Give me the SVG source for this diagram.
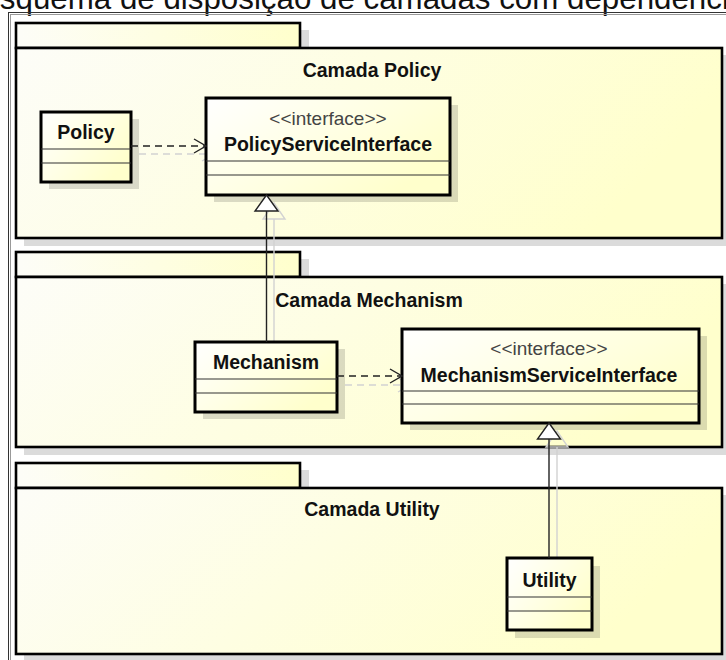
<svg xmlns="http://www.w3.org/2000/svg" width="726" height="660" viewBox="0 0 726 660">
  <defs>
    <linearGradient id="pkgFill" x1="0" y1="0" x2="1" y2="0.25">
      <stop offset="0" stop-color="#FDFDF8"/>
      <stop offset="1" stop-color="#FFFFCC"/>
    </linearGradient>
    <linearGradient id="tabFill" x1="0" y1="0" x2="1" y2="0">
      <stop offset="0" stop-color="#FDFDF8"/>
      <stop offset="1" stop-color="#FFFFCC"/>
    </linearGradient>
    <linearGradient id="clsFill" x1="0" y1="0" x2="1" y2="0.6">
      <stop offset="0" stop-color="#FFFFFF"/>
      <stop offset="1" stop-color="#FFFFCC"/>
    </linearGradient>
    <marker id="openArrow" viewBox="0 0 14 16" refX="13" refY="8" markerWidth="14" markerHeight="16" markerUnits="userSpaceOnUse" orient="auto">
      <path d="M1,1 L13,8 L1,15" fill="none" stroke="#222" stroke-width="1.4"/>
    </marker>
    <marker id="openArrowShadow" viewBox="0 0 14 16" refX="13" refY="8" markerWidth="14" markerHeight="16" markerUnits="userSpaceOnUse" orient="auto">
      <path d="M1,1 L13,8 L1,15" fill="none" stroke="#d2d2d2" stroke-width="1.4"/>
    </marker>
  </defs>
  <style>
    .title { font-family: "Liberation Sans", Arial, sans-serif; font-size: 31.3px; fill: #111; }
    .pkg { fill: url(#pkgFill); stroke: #000; stroke-width: 2.6; }
    .tab { fill: url(#tabFill); stroke: #000; stroke-width: 2.6; }
    .shadow { fill: #000; fill-opacity: 0.14; stroke: none; }
    .cls { fill: url(#clsFill); stroke: #000; stroke-width: 3; }
    .comp { stroke: #333; stroke-width: 1.2; fill: none; }
    .pkgLabel { font-family: "Liberation Sans", Arial, sans-serif; font-size: 19.5px; font-weight: bold; fill: #111; text-anchor: middle; }
    .name { font-family: "Liberation Sans", Arial, sans-serif; font-size: 19.5px; font-weight: bold; fill: #111; text-anchor: middle; }
    .stereo { font-family: "Liberation Sans", Arial, sans-serif; font-size: 19px; fill: #444; text-anchor: middle; }
    .dep { stroke: #222; stroke-width: 1.4; stroke-dasharray: 7 5; fill: none; }
    .depShadow { stroke: #d2d2d2; stroke-width: 1.4; stroke-dasharray: 7 5; fill: none; }
    .gen { stroke: #222; stroke-width: 1.4; fill: none; }
    .genShadow { stroke: #d2d2d2; stroke-width: 1.4; fill: none; }
    .tri { fill: #fff; stroke: #222; stroke-width: 1.4; }
    .triShadow { fill: none; stroke: #d2d2d2; stroke-width: 1.4; }
  </style>

  <rect width="726" height="660" fill="#fff"/>

  <!-- heading, clipped by the top edge -->
  <text class="title" x="-21" y="9">Esquema de disposição de camadas com dependência</text>

  <!-- outer diagram frame (double border) -->
  <g id="frame" fill="none">
    <rect x="8.5" y="12.5" width="740" height="660" stroke="#333" stroke-width="1"/>
    <rect x="10.5" y="14.5" width="740" height="660" stroke="#999" stroke-width="1"/>
  </g>

  <!-- package: Camada Policy -->
  <g id="pkg-policy">
    <rect class="shadow" x="24" y="30" width="285" height="25"/>
    <rect class="shadow" x="24" y="55" width="706" height="191"/>
    <rect class="tab" x="16" y="23" width="284" height="25"/>
    <rect class="pkg" x="16" y="48" width="706" height="190"/>
    <text class="pkgLabel" x="372" y="77">Camada Policy</text>
  </g>

  <!-- package: Camada Mechanism -->
  <g id="pkg-mechanism">
    <rect class="shadow" x="24" y="259" width="285" height="25"/>
    <rect class="shadow" x="24" y="284" width="706" height="171"/>
    <rect class="tab" x="16" y="252" width="284" height="25"/>
    <rect class="pkg" x="16" y="277" width="706" height="170"/>
    <text class="pkgLabel" x="369" y="307">Camada Mechanism</text>
  </g>

  <!-- package: Camada Utility -->
  <g id="pkg-utility">
    <rect class="shadow" x="24" y="470" width="285" height="25"/>
    <rect class="shadow" x="24" y="495" width="706" height="168"/>
    <rect class="tab" x="16" y="463" width="284" height="25"/>
    <rect class="pkg" x="16" y="488" width="706" height="166"/>
    <text class="pkgLabel" x="372" y="516">Camada Utility</text>
  </g>

  <!-- connector shadows -->
  <g id="connector-shadows">
    <path class="depShadow" d="M139,154 L214,154" marker-end="url(#openArrowShadow)"/>
    <path class="genShadow" d="M274,219 L274,350"/>
    <path class="triShadow" d="M274,203 L285,219 L263,219 Z"/>
    <path class="depShadow" d="M345,385 L410,385" marker-end="url(#openArrowShadow)"/>
    <path class="genShadow" d="M557,447 L557,566"/>
    <path class="triShadow" d="M557,431 L568,447 L546,447 Z"/>
  </g>

  <!-- class: Policy -->
  <g id="policy">
    <rect class="shadow" x="49" y="119" width="90" height="70"/>
    <rect class="cls" x="41" y="112" width="90" height="70"/>
    <line class="comp" x1="41" y1="149" x2="131" y2="149"/>
    <line class="comp" x1="41" y1="163" x2="131" y2="163"/>
    <text class="name" x="86" y="139">Policy</text>
  </g>

  <!-- interface: PolicyServiceInterface -->
  <g id="policy-service-interface">
    <rect class="shadow" x="214" y="105" width="244" height="97"/>
    <rect class="cls" x="206" y="98" width="244" height="97"/>
    <line class="comp" x1="206" y1="161" x2="450" y2="161"/>
    <line class="comp" x1="206" y1="175" x2="450" y2="175"/>
    <text class="stereo" x="328" y="125">&lt;&lt;interface&gt;&gt;</text>
    <text class="name" x="328" y="151">PolicyServiceInterface</text>
  </g>

  <!-- class: Mechanism -->
  <g id="mechanism">
    <rect class="shadow" x="203" y="349" width="142" height="70"/>
    <rect class="cls" x="195" y="342" width="142" height="70"/>
    <line class="comp" x1="195" y1="379" x2="337" y2="379"/>
    <line class="comp" x1="195" y1="393" x2="337" y2="393"/>
    <text class="name" x="266" y="369">Mechanism</text>
  </g>

  <!-- interface: MechanismServiceInterface -->
  <g id="mechanism-service-interface">
    <rect class="shadow" x="410" y="336" width="297" height="94"/>
    <rect class="cls" x="402" y="329" width="297" height="94"/>
    <line class="comp" x1="402" y1="391" x2="699" y2="391"/>
    <line class="comp" x1="402" y1="404" x2="699" y2="404"/>
    <text class="stereo" x="549" y="355">&lt;&lt;interface&gt;&gt;</text>
    <text class="name" x="549" y="382">MechanismServiceInterface</text>
  </g>

  <!-- class: Utility -->
  <g id="utility">
    <rect class="shadow" x="515" y="566" width="85" height="72"/>
    <rect class="cls" x="507" y="558" width="85" height="72"/>
    <line class="comp" x1="507" y1="597" x2="592" y2="597"/>
    <line class="comp" x1="507" y1="611" x2="592" y2="611"/>
    <text class="name" x="549.5" y="587">Utility</text>
  </g>

  <!-- connectors -->
  <g id="connectors">
    <!-- Policy uses PolicyServiceInterface -->
    <path class="dep" d="M131,146 L206,146" marker-end="url(#openArrow)"/>
    <!-- Mechanism realizes PolicyServiceInterface -->
    <path class="gen" d="M266.5,211 L266.5,342"/>
    <path class="tri" d="M266.5,195 L278,211 L255,211 Z"/>
    <!-- Mechanism uses MechanismServiceInterface -->
    <path class="dep" d="M337,376 L402,376" marker-end="url(#openArrow)"/>
    <!-- Utility realizes MechanismServiceInterface -->
    <path class="gen" d="M549,439 L549,558"/>
    <path class="tri" d="M549,423 L560.5,439 L537.5,439 Z"/>
  </g>
</svg>
